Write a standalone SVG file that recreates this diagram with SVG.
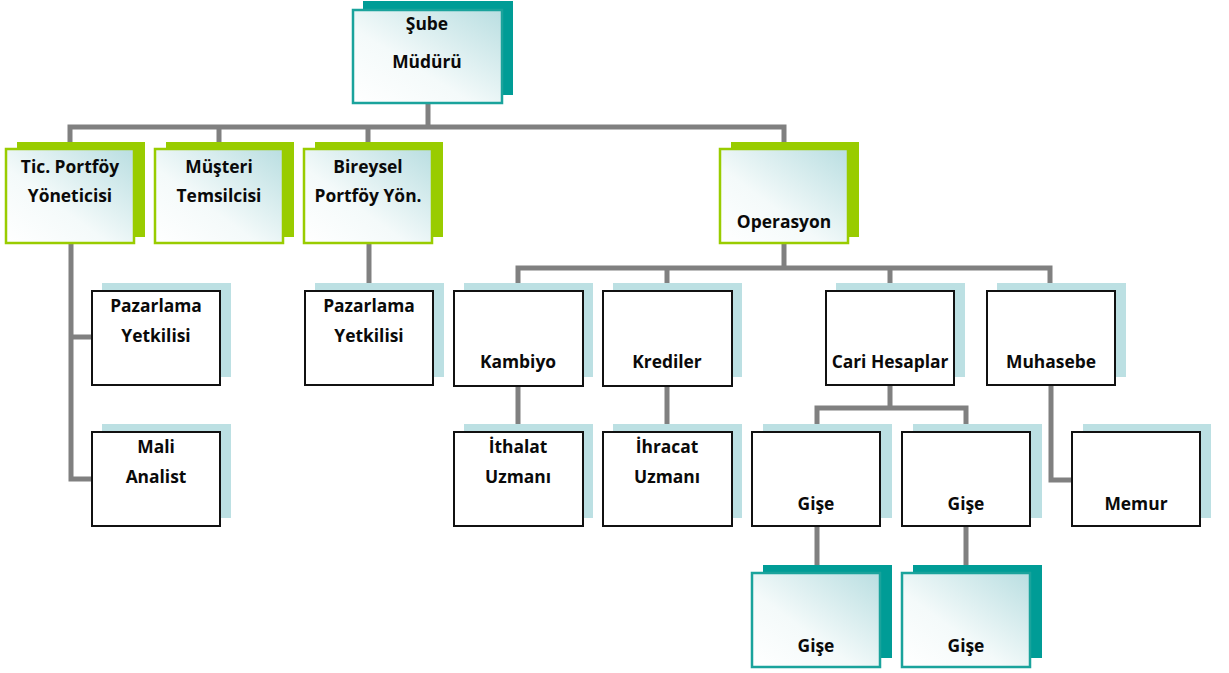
<svg xmlns="http://www.w3.org/2000/svg" width="1229" height="673" viewBox="0 0 1229 673">
  <defs>
    <linearGradient id="frontFill" x1="0" y1="1" x2="1" y2="0">
      <stop offset="0" stop-color="#ffffff"/>
      <stop offset="0.4" stop-color="#f4fafa"/>
      <stop offset="1" stop-color="#b9dee1"/>
    </linearGradient>
    <style>
      .lnk { fill: none; stroke: #808080; stroke-width: 5; stroke-linejoin: miter; stroke-linecap: butt; }
      .sh-teal { fill: #009c96; }
      .sh-green { fill: #99cc00; }
      .sh-blue { fill: #bce0e3; }
      .fr-teal { fill: url(#frontFill); stroke: #1aa39c; stroke-width: 2.5; }
      .fr-green { fill: url(#frontFill); stroke: #99cc00; stroke-width: 2.5; }
      .fr-plain { fill: #ffffff; stroke: #111111; stroke-width: 2; }
      text { font-family: "Open Sans", "Noto Sans", "DejaVu Sans", sans-serif; font-weight: 700; font-size: 17.4px; fill: #0a0a0a; text-anchor: middle; }
    </style>
  </defs>

  <!-- connectors -->
  <g id="connectors">
    <path class="lnk" d="M428,103 V127 M70,149 V127 H784 V149 M219,127 V149 M368,127 V149"/>
    <path class="lnk" d="M71,243 V479 H92 M71,337 H92"/>
    <path class="lnk" d="M369,243 V291"/>
    <path class="lnk" d="M784,243 V268 M518,291 V268 H1050 V291 M667,268 V291 M890,268 V291"/>
    <path class="lnk" d="M518,386 V432 M667,386 V432"/>
    <path class="lnk" d="M890,385 V408 M817,432 V408 H966 V432"/>
    <path class="lnk" d="M817,526 V573 M966,526 V573"/>
    <path class="lnk" d="M1051,385 V480 H1072"/>
  </g>

  <!-- top -->
  <g id="sube-muduru">
    <rect class="sh-teal" x="363" y="1" width="150" height="94"/>
    <rect class="fr-teal" x="353" y="10" width="149" height="93"/>
    <text x="427" y="30">Şube</text>
    <text x="427" y="68">Müdürü</text>
  </g>

  <!-- second level -->
  <g id="tic-portfoy">
    <rect class="sh-green" x="17" y="142" width="128" height="95"/>
    <rect class="fr-green" x="6" y="149" width="128" height="94"/>
    <text x="70" y="173">Tic. Portföy</text>
    <text x="70" y="202">Yöneticisi</text>
  </g>
  <g id="musteri-temsilcisi">
    <rect class="sh-green" x="166" y="142" width="128" height="95"/>
    <rect class="fr-green" x="155" y="149" width="128" height="94"/>
    <text x="219" y="173">Müşteri</text>
    <text x="219" y="202">Temsilcisi</text>
  </g>
  <g id="bireysel-portfoy">
    <rect class="sh-green" x="315" y="142" width="128" height="95"/>
    <rect class="fr-green" x="304" y="149" width="128" height="94"/>
    <text x="368" y="173">Bireysel</text>
    <text x="368" y="202">Portföy Yön.</text>
  </g>
  <g id="operasyon">
    <rect class="sh-green" x="731" y="142" width="128" height="95"/>
    <rect class="fr-green" x="720" y="149" width="128" height="94"/>
    <text x="784" y="228">Operasyon</text>
  </g>

  <!-- under Tic. Portföy Yöneticisi -->
  <g id="pazarlama-1">
    <rect class="sh-blue" x="102" y="283" width="129" height="94"/>
    <rect class="fr-plain" x="92" y="291" width="128" height="94"/>
    <text x="156" y="312">Pazarlama</text>
    <text x="156" y="342">Yetkilisi</text>
  </g>
  <g id="mali-analist">
    <rect class="sh-blue" x="102" y="424" width="129" height="94"/>
    <rect class="fr-plain" x="92" y="432" width="128" height="94"/>
    <text x="156" y="453">Mali</text>
    <text x="156" y="483">Analist</text>
  </g>

  <!-- under Bireysel Portföy Yön. -->
  <g id="pazarlama-2">
    <rect class="sh-blue" x="315" y="283" width="129" height="94"/>
    <rect class="fr-plain" x="305" y="291" width="128" height="94"/>
    <text x="369" y="312">Pazarlama</text>
    <text x="369" y="342">Yetkilisi</text>
  </g>

  <!-- under Operasyon -->
  <g id="kambiyo">
    <rect class="sh-blue" x="464" y="283" width="129" height="94"/>
    <rect class="fr-plain" x="454" y="291" width="129" height="95"/>
    <text x="518" y="368">Kambiyo</text>
  </g>
  <g id="krediler">
    <rect class="sh-blue" x="613" y="283" width="129" height="94"/>
    <rect class="fr-plain" x="603" y="291" width="129" height="95"/>
    <text x="667" y="368">Krediler</text>
  </g>
  <g id="cari-hesaplar">
    <rect class="sh-blue" x="836" y="283" width="129" height="94"/>
    <rect class="fr-plain" x="826" y="291" width="128" height="94"/>
    <text x="890" y="368">Cari Hesaplar</text>
  </g>
  <g id="muhasebe">
    <rect class="sh-blue" x="997" y="283" width="129" height="94"/>
    <rect class="fr-plain" x="987" y="291" width="128" height="94"/>
    <text x="1051" y="368">Muhasebe</text>
  </g>

  <g id="ithalat-uzmani">
    <rect class="sh-blue" x="464" y="424" width="129" height="94"/>
    <rect class="fr-plain" x="454" y="432" width="129" height="94"/>
    <text x="518" y="453">İthalat</text>
    <text x="518" y="483">Uzmanı</text>
  </g>
  <g id="ihracat-uzmani">
    <rect class="sh-blue" x="613" y="424" width="129" height="94"/>
    <rect class="fr-plain" x="603" y="432" width="129" height="94"/>
    <text x="667" y="453">İhracat</text>
    <text x="667" y="483">Uzmanı</text>
  </g>
  <g id="gise-1">
    <rect class="sh-blue" x="763" y="424" width="129" height="94"/>
    <rect class="fr-plain" x="752" y="432" width="128" height="94"/>
    <text x="816" y="510">Gişe</text>
  </g>
  <g id="gise-2">
    <rect class="sh-blue" x="913" y="424" width="129" height="94"/>
    <rect class="fr-plain" x="902" y="432" width="128" height="94"/>
    <text x="966" y="510">Gişe</text>
  </g>
  <g id="memur">
    <rect class="sh-blue" x="1083" y="424" width="128" height="94"/>
    <rect class="fr-plain" x="1072" y="432" width="128" height="94"/>
    <text x="1136" y="510">Memur</text>
  </g>

  <!-- bottom level -->
  <g id="gise-3">
    <rect class="sh-teal" x="763" y="565" width="129" height="93"/>
    <rect class="fr-teal" x="752" y="573" width="128" height="94"/>
    <text x="816" y="652">Gişe</text>
  </g>
  <g id="gise-4">
    <rect class="sh-teal" x="913" y="565" width="129" height="93"/>
    <rect class="fr-teal" x="902" y="573" width="128" height="94"/>
    <text x="966" y="652">Gişe</text>
  </g>
</svg>
